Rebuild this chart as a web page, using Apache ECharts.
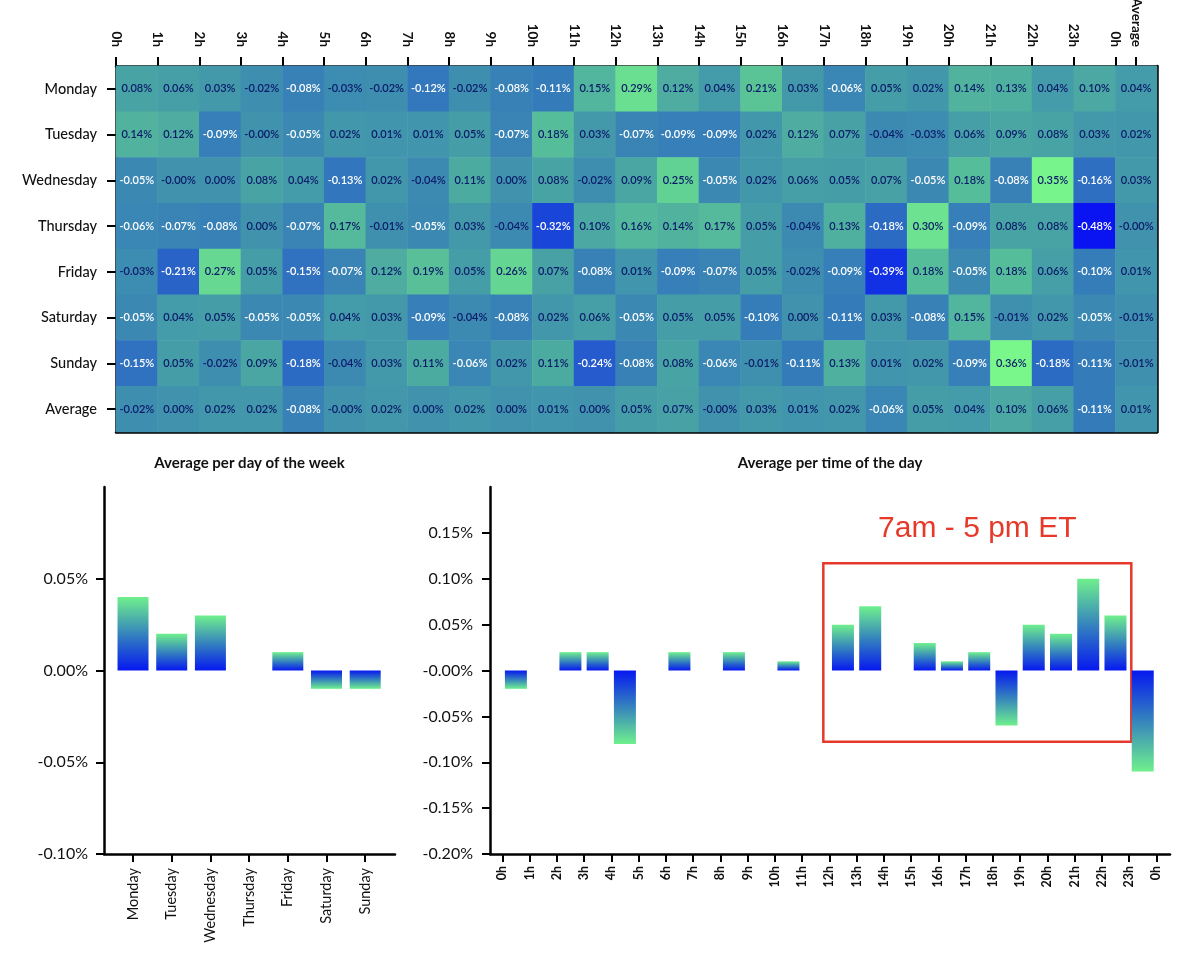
<!DOCTYPE html>
<html>
<head>
<meta charset="utf-8">
<script src="https://cdn.jsdelivr.net/npm/echarts@6.0.0/dist/echarts.min.js"></script>
<style>
  html, body { margin: 0; padding: 0; background: #ffffff; }
  #chart { width: 1200px; height: 976px; }
</style>
</head>
<body>
<div id="chart"></div>
<script>
// ---------------- DATA ----------------
const hourTicks = ['0h','1h','2h','3h','4h','5h','6h','7h','8h','9h','10h','11h','12h','13h','14h','15h','16h','17h','18h','19h','20h','21h','22h','23h','0h'];
const topTickLabels = hourTicks.concat(['Average']);
const colNames = ['0h','1h','2h','3h','4h','5h','6h','7h','8h','9h','10h','11h','12h','13h','14h','15h','16h','17h','18h','19h','20h','21h','22h','23h','Average'];
const rowNames = ['Monday','Tuesday','Wednesday','Thursday','Friday','Saturday','Sunday','Average'];
const dayNames = ['Monday','Tuesday','Wednesday','Thursday','Friday','Saturday','Sunday'];
const dayYTicks = [-0.10, -0.05, 0.00, 0.05];
const hourYTicks = [-0.20, -0.15, -0.10, -0.05, 0.00, 0.05, 0.10, 0.15];

// heat-map rows (% values), last entry of each row = row average; "-0.00" shown as -0.001
const monday    = [0.08, 0.06, 0.03, -0.02, -0.08, -0.03, -0.02, -0.12, -0.02, -0.08, -0.11, 0.15, 0.29, 0.12, 0.04, 0.21, 0.03, -0.06, 0.05, 0.02, 0.14, 0.13, 0.04, 0.10, 0.04];
const tuesday   = [0.14, 0.12, -0.09, -0.001, -0.05, 0.02, 0.01, 0.01, 0.05, -0.07, 0.18, 0.03, -0.07, -0.09, -0.09, 0.02, 0.12, 0.07, -0.04, -0.03, 0.06, 0.09, 0.08, 0.03, 0.02];
const wednesday = [-0.05, -0.001, 0.00, 0.08, 0.04, -0.13, 0.02, -0.04, 0.11, 0.00, 0.08, -0.02, 0.09, 0.25, -0.05, 0.02, 0.06, 0.05, 0.07, -0.05, 0.18, -0.08, 0.35, -0.16, 0.03];
const thursday  = [-0.06, -0.07, -0.08, 0.00, -0.07, 0.17, -0.01, -0.05, 0.03, -0.04, -0.32, 0.10, 0.16, 0.14, 0.17, 0.05, -0.04, 0.13, -0.18, 0.30, -0.09, 0.08, 0.08, -0.48, -0.001];
const friday    = [-0.03, -0.21, 0.27, 0.05, -0.15, -0.07, 0.12, 0.19, 0.05, 0.26, 0.07, -0.08, 0.01, -0.09, -0.07, 0.05, -0.02, -0.09, -0.39, 0.18, -0.05, 0.18, 0.06, -0.10, 0.01];
const saturday  = [-0.05, 0.04, 0.05, -0.05, -0.05, 0.04, 0.03, -0.09, -0.04, -0.08, 0.02, 0.06, -0.05, 0.05, 0.05, -0.10, 0.00, -0.11, 0.03, -0.08, 0.15, -0.01, 0.02, -0.05, -0.01];
const sunday    = [-0.15, 0.05, -0.02, 0.09, -0.18, -0.04, 0.03, 0.11, -0.06, 0.02, 0.11, -0.24, -0.08, 0.08, -0.06, -0.01, -0.11, 0.13, 0.01, 0.02, -0.09, 0.36, -0.18, -0.11, -0.01];
const average   = [-0.02, 0.00, 0.02, 0.02, -0.08, -0.001, 0.02, 0.00, 0.02, 0.00, 0.01, 0.00, 0.05, 0.07, -0.001, 0.03, 0.01, 0.02, -0.06, 0.05, 0.04, 0.10, 0.06, -0.11, 0.01];

const boxLabel = '7am - 5 pm ET';

// ---------------- BUILD ----------------
const heatRows = [monday, tuesday, wednesday, thursday, friday, saturday, sunday, average];
const heatMin = -0.48, heatMax = 0.36;
const heatColors = ['#0a14f2', '#173fdc', '#2a66c6', '#3a86b4', '#48a3a4', '#5cc796', '#7af78b'];
const darkText = '#0b1a6b';

const heatData = [];
heatRows.forEach((row, r) => {
  row.forEach((v, c) => {
    heatData.push({ value: [c, r, v], label: { color: v < -0.045 ? '#ffffff' : darkText } });
  });
});

const round2 = v => Math.round(v * 100) / 100;
const dayAvg = heatRows.slice(0, 7).map(r => round2(r[r.length - 1]));
const hourAvg = average.slice(0, 24).map(round2);

const GREEN = '#6ff08d', MID = '#3584bd', BLUE = '#0618f0';
function barGrad(v) {
  const stops = v >= 0
    ? [{ offset: 0, color: GREEN }, { offset: 0.5, color: MID }, { offset: 1, color: BLUE }]
    : [{ offset: 0, color: BLUE }, { offset: 0.5, color: MID }, { offset: 1, color: GREEN }];
  return new echarts.graphic.LinearGradient(0, 0, 0, 1, stops);
}
const dayBarData = dayAvg.map((v, i) => ({ value: [i, v], itemStyle: { color: barGrad(v) } }));
const hourBarData = hourAvg.map((v, i) => ({ value: [i + 0.5, v], itemStyle: { color: barGrad(v) } }));

const FONT = 'Lato';
const black = '#111111';
const axisLineStyle = { color: '#000', width: 2.5 };
const tickStyle = { color: '#000', width: 2 };

const topTickPos = hourTicks.map((_, i) => i).concat([24.5]);
const dayTickPos = dayNames.map((_, i) => i);
const hourTickPos = hourTicks.map((_, i) => i);

const pct = v => v.toFixed(2) + '%';
const pctNegZero = v => (Math.abs(v) < 1e-9 ? '-0.00' : v.toFixed(2)) + '%';

const chart = echarts.init(document.getElementById('chart'), null, { renderer: 'canvas' });

const option = {
  backgroundColor: '#ffffff',
  animation: false,
  textStyle: { fontFamily: FONT },
  grid: [
    { left: 116, top: 66, width: 1041, height: 366, containLabel: false, outerBoundsMode: 'none' },
    { left: 104, top: 487, width: 291, height: 367, containLabel: false, outerBoundsMode: 'none' },
    { left: 490, top: 487, width: 680, height: 367, containLabel: false, outerBoundsMode: 'none' }
  ],
  visualMap: {
    type: 'continuous', show: false, seriesIndex: 0, dimension: 2,
    min: heatMin, max: heatMax,
    inRange: { color: heatColors }
  },
  xAxis: [
    { // heat-map category axis (hidden labels, bottom border)
      gridIndex: 0, type: 'category', data: colNames, position: 'bottom',
      axisLine: { show: true, lineStyle: axisLineStyle },
      axisTick: { show: false }, axisLabel: { show: false }, splitLine: { show: false }
    },
    { // top tick labels at cell boundaries
      gridIndex: 0, type: 'value', position: 'top', min: 0, max: 25,
      axisLine: { show: true, onZero: false, lineStyle: axisLineStyle },
      axisTick: { show: true, length: 9, lineStyle: tickStyle, customValues: topTickPos },
      axisLabel: {
        show: true, rotate: 90, margin: 19, fontSize: 13.5, fontWeight: 'bold', color: black, fontFamily: FONT,
        customValues: topTickPos,
        formatter: v => topTickLabels[topTickPos.indexOf(v)]
      },
      splitLine: { show: false }
    },
    { // day-of-week bars
      gridIndex: 1, type: 'value', min: -0.75, max: 6.77,
      axisLine: { show: true, onZero: false, lineStyle: axisLineStyle },
      axisTick: { show: true, length: 8, lineStyle: tickStyle, customValues: dayTickPos },
      axisLabel: {
        show: true, rotate: 90, margin: 14, fontSize: 14.5, color: black, fontFamily: FONT,
        customValues: dayTickPos,
        formatter: v => dayNames[v]
      },
      splitLine: { show: false }
    },
    { // hour bars
      gridIndex: 2, type: 'value', min: -0.45, max: 24.5,
      axisLine: { show: true, onZero: false, lineStyle: axisLineStyle },
      axisTick: { show: true, length: 8, lineStyle: tickStyle, customValues: hourTickPos },
      axisLabel: {
        show: true, rotate: 90, margin: 12, fontSize: 12.5, fontWeight: 'bold', color: black, fontFamily: FONT,
        customValues: hourTickPos,
        formatter: v => hourTicks[v]
      },
      splitLine: { show: false }
    }
  ],
  yAxis: [
    {
      gridIndex: 0, type: 'category', data: rowNames, inverse: true,
      axisLine: { show: true, onZero: false, lineStyle: axisLineStyle },
      axisTick: { show: true, alignWithLabel: true, length: 9, lineStyle: tickStyle },
      axisLabel: { fontSize: 14.5, fontWeight: 500, color: black, margin: 19, fontFamily: FONT },
      splitLine: { show: false }
    },
    {
      gridIndex: 0, type: 'category', data: rowNames, inverse: true, position: 'right',
      axisLine: { show: true, onZero: false, lineStyle: axisLineStyle },
      axisTick: { show: false }, axisLabel: { show: false }, splitLine: { show: false }
    },
    {
      gridIndex: 1, type: 'value', min: -0.1, max: 0.1,
      axisLine: { show: true, onZero: false, lineStyle: axisLineStyle },
      axisTick: { show: true, length: 8, lineStyle: tickStyle, customValues: dayYTicks },
      axisLabel: { fontSize: 16, color: black, margin: 16, fontFamily: FONT, customValues: dayYTicks, formatter: pct },
      splitLine: { show: false }
    },
    {
      gridIndex: 2, type: 'value', min: -0.2, max: 0.2,
      axisLine: { show: true, onZero: false, lineStyle: axisLineStyle },
      axisTick: { show: true, length: 8, lineStyle: tickStyle, customValues: hourYTicks },
      axisLabel: { fontSize: 16, color: black, margin: 17, fontFamily: FONT, customValues: hourYTicks, formatter: pctNegZero },
      splitLine: { show: false }
    }
  ],
  series: [
    {
      type: 'heatmap', xAxisIndex: 0, yAxisIndex: 0,
      data: heatData,
      label: {
        show: true, fontSize: 11, fontWeight: 600, fontFamily: FONT,
        formatter: p => p.value[2].toFixed(2) + '%'
      },
      itemStyle: { borderWidth: 0 },
      emphasis: { disabled: true }
    },
    {
      type: 'bar', xAxisIndex: 2, yAxisIndex: 2,
      data: dayBarData, barWidth: 31,
      emphasis: { disabled: true }
    },
    {
      type: 'bar', xAxisIndex: 3, yAxisIndex: 3,
      data: hourBarData, barWidth: 22,
      emphasis: { disabled: true },
      markArea: {
        silent: true,
        itemStyle: { color: 'rgba(0,0,0,0)', borderColor: '#e6392a', borderWidth: 2.5 },
        label: {
          show: true, position: 'top', distance: 18,
          color: '#e6392a', fontSize: 30, fontFamily: 'Liberation Sans'
        },
        data: [[{ name: boxLabel, coord: [11.78, 0.117] }, { coord: [23.08, -0.0777] }]]
      }
    }
  ],
  graphic: [
    { type: 'text', x: 249.5, y: 463, style: { text: 'Average per day of the week', textAlign: 'center', textVerticalAlign: 'middle', font: 'bold 15px Lato', fill: black } },
    { type: 'text', x: 830, y: 463, style: { text: 'Average per time of the day', textAlign: 'center', textVerticalAlign: 'middle', font: 'bold 15px Lato', fill: black } }
  ]
};

chart.setOption(option);
</script>
</body>
</html>
